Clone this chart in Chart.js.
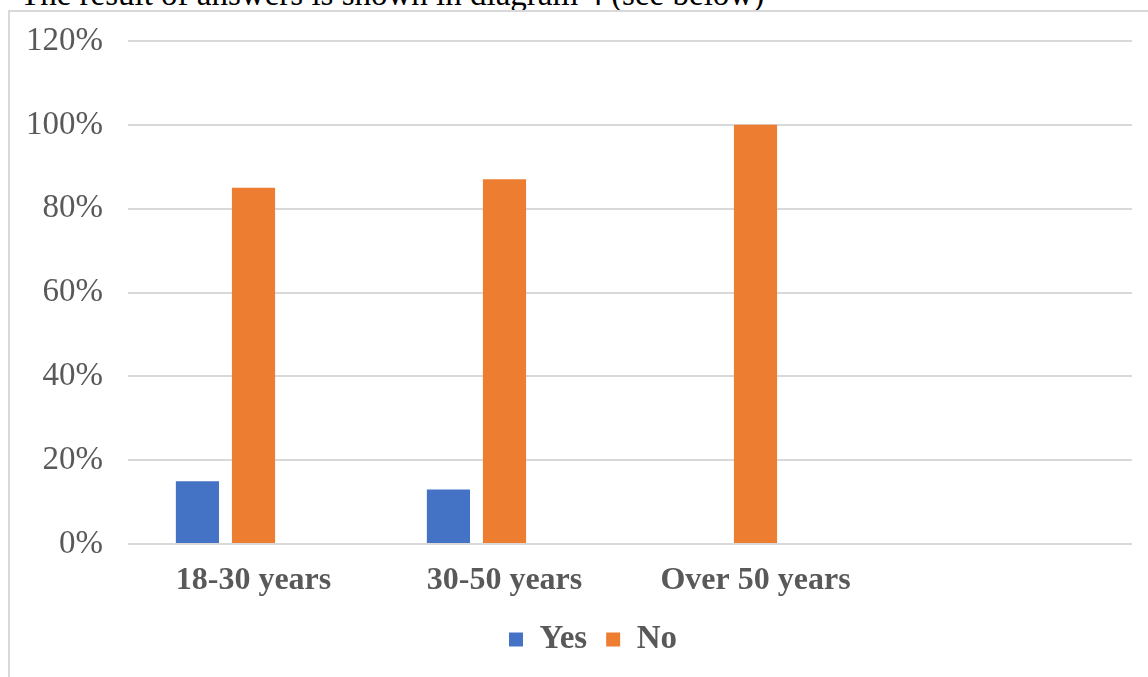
<!DOCTYPE html>
<html>
<head>
<meta charset="utf-8">
<script src="https://cdn.jsdelivr.net/npm/chart.js@4"></script>
<style>
  body { margin: 0; background: #fff; overflow: hidden; }
  #caption {
    position: absolute; left: 20px; top: -24px;
    font-family: "Liberation Serif", serif; font-size: 33px; color: #000;
    white-space: nowrap;
  }
  #frame {
    position: absolute; left: 8px; top: 10px; width: 1300px; height: 900px;
    border: 2px solid #d9d9d9;
  }
  #wrap { position: absolute; left: 0; top: 0; width: 1148px; height: 677px; }
</style>
</head>
<body>
<div id="caption">The result of answers is shown in diagram 4 (see below)</div>
<div id="frame"></div>
<div id="wrap"><canvas id="myChart"></canvas></div>
<script>
// age groups (last slot is empty in the original)
const categories = ['18-30 years', '30-50 years', 'Over 50 years', ''];
const yesValues = [15, 13, 0, null];
const noValues = [85, 87, 100, null];
const blankValues = [null, null, null, null]; // third empty series, no legend
const yTicks = [0, 20, 40, 60, 80, 100, 120];

const serif = '"Liberation Serif", "Times New Roman", serif';
const grey = '#595959';

// legend sits a bit right of the canvas centre in the original
let legendShift = {
  id: 'legendShift',
  afterLayout: function(chart) {
    chart.legend.left += 27;
    chart.legend.right += 27;
  }
};

var ctx = document.getElementById('myChart').getContext('2d');

var ageChart = new Chart(ctx, {
  type: 'bar',
  data: {
    labels: categories,
    datasets: [
      { label: 'Yes', data: yesValues, backgroundColor: '#4472C4' },
      { label: 'No', data: noValues, backgroundColor: '#ED7D31' },
      { label: '', data: blankValues, backgroundColor: '#A5A5A5' }
    ]
  },
  options: {
    responsive: true,
    maintainAspectRatio: false,
    animation: false,
    categoryPercentage: 0.67,
    barPercentage: 0.77,
    layout: { padding: { left: 0, right: 16, top: 41, bottom: 11 } },
    plugins: {
      tooltip: { enabled: false },
      legend: {
        position: 'bottom',
        labels: {
          filter: function(item) { return item.text !== ''; },
          boxWidth: 14,
          boxHeight: 14,
          padding: 19,
          color: grey,
          font: { family: serif, size: 33, weight: 'bold' }
        }
      }
    },
    scales: {
      x: {
        grid: { display: false, drawTicks: false },
        border: { display: false },
        ticks: {
          color: grey,
          padding: 18,
          maxRotation: 0,
          font: { family: serif, size: 32, weight: 'bold' }
        },
        afterFit: function(scale) {
          scale.height = 60;
          scale.paddingLeft = 0;
          scale.paddingRight = 0;
        }
      },
      y: {
        min: 0,
        max: 120,
        afterBuildTicks: function(scale) {
          scale.ticks = yTicks.map(function(v) { return { value: v }; });
        },
        grid: { color: '#d9d9d9', lineWidth: 2, drawTicks: false },
        border: { display: false },
        ticks: {
          color: grey,
          padding: 25,
          font: { family: serif, size: 33 },
          callback: function(v) { return v + '%'; }
        },
        afterFit: function(scale) {
          scale.width = 128;
          scale.paddingTop = 0;
          scale.paddingBottom = 0;
        }
      }
    }
  },
  plugins: [legendShift]
});
</script>
</body>
</html>
